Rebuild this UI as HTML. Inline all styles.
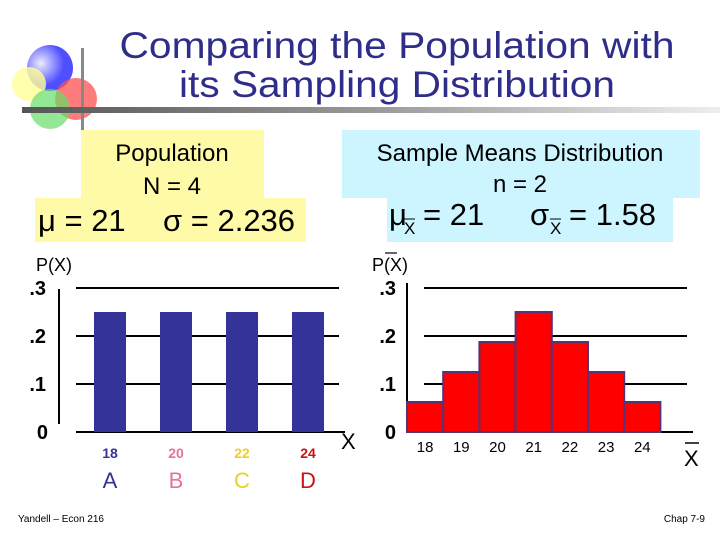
<!DOCTYPE html>
<html><head><meta charset="utf-8"><style>
body{margin:0;background:#fff;}
svg{display:block;font-family:"Liberation Sans",sans-serif;}
</style></head><body>
<svg width="720" height="540" viewBox="0 0 720 540">
<defs>
<linearGradient id="hb" x1="0" x2="1"><stop offset="0" stop-color="#555"/><stop offset="0.5" stop-color="#999"/><stop offset="1" stop-color="#eee"/></linearGradient>
<radialGradient id="gb" cx="0.3" cy="0.4"><stop offset="0" stop-color="#e8e8ff"/><stop offset="1" stop-color="#3030ff"/></radialGradient>
</defs>
<g>
<circle cx="50" cy="68" r="23" fill="url(#gb)" opacity="0.85"/>
<circle cx="29" cy="84" r="17" fill="#ffff99" opacity="0.8"/>
<circle cx="76" cy="99" r="21" fill="#ff5050" opacity="0.75"/>
<circle cx="50" cy="109" r="20" fill="#66dd66" opacity="0.7"/>
<rect x="81" y="48" width="3" height="84" fill="#888"/>
<rect x="22" y="107" width="698" height="6" fill="url(#hb)"/>
</g>
<g fill="#2e2e8a" font-size="37" text-anchor="middle">
<text x="397" y="58" textLength="555" lengthAdjust="spacingAndGlyphs">Comparing the Population with</text>
<text x="397" y="97" textLength="436" lengthAdjust="spacingAndGlyphs">its Sampling Distribution</text>
</g>
<g>
<rect x="81" y="130" width="183" height="70" fill="#fffaa8"/>
<rect x="35" y="198" width="271" height="44" fill="#fffaa8"/>
<text x="172" y="161" font-size="24" text-anchor="middle">Population</text>
<text x="172" y="194" font-size="24" text-anchor="middle">N = 4</text>
<text x="38" y="231" font-size="31">μ = 21</text>
<text x="163" y="231" font-size="31">σ = 2.236</text>
</g>
<g>
<rect x="342" y="130" width="358" height="68" fill="#ccf5ff"/>
<rect x="387" y="196" width="286" height="46" fill="#ccf5ff"/>
<text x="520" y="161" font-size="24" text-anchor="middle">Sample Means Distribution</text>
<text x="520" y="192" font-size="24" text-anchor="middle">n = 2</text>
<text x="389" y="225" font-size="31">μ</text>
<text x="404" y="234" font-size="17">X</text><line x1="404" y1="219" x2="415" y2="219" stroke="#000"/>
<text x="423" y="225" font-size="31">= 21</text>
<text x="530" y="225" font-size="31">σ</text>
<text x="550" y="234" font-size="17">X</text><line x1="550" y1="219" x2="561" y2="219" stroke="#000"/>
<text x="569" y="225" font-size="31">= 1.58</text>
</g>
<g id="left"></g>
<g id="right"></g>
<text x="18" y="522" font-size="10">Yandell – Econ 216</text>
<text x="705" y="522" font-size="10" text-anchor="end">Chap 7-9</text>
</svg>
<script>
const popCategories=["18","20","22","24"];
const popLetters=["A","B","C","D"];
const popValues=[0.25,0.25,0.25,0.25];
const sampCategories=["18","19","20","21","22","23","24"];
const sampValues=[0.0625,0.125,0.1875,0.25,0.1875,0.125,0.0625];
const yTicks=[0,0.1,0.2,0.3];
const yTickLabels=["0",".1",".2",".3"];

const NS="http://www.w3.org/2000/svg";
function mk(parent,tag,attrs,text){const e=document.createElementNS(NS,tag);for(const k in attrs)e.setAttribute(k,attrs[k]);if(text!==undefined)e.textContent=text;parent.appendChild(e);return e;}
const yScale=v=>432-v*480;

// Left chart
const L=document.getElementById('left');
const labelColors=["#333399","#e8709a","#e8d030","#cc1111"];
let t=mk(L,'text',{x:36,y:271,'font-size':18},'P(X)');

mk(L,'line',{x1:59,y1:289,x2:59,y2:424,stroke:'#000','stroke-width':2});
yTicks.forEach((v,i)=>{
  const y=yScale(v);
  const g=mk(L,'line',{x1:76,y1:y,x2:i==0?345:339,y2:y,stroke:'#000','stroke-width':2});
  
  const tx=mk(L,'text',{x:i==0?48:46,y:y+7,'font-size':20,'text-anchor':'end','font-weight':'bold'},yTickLabels[i]);
  
});
const lx=i=>110+i*66;
popValues.forEach((v,i)=>{
  const r=mk(L,'rect',{x:lx(i)-16,y:yScale(v),width:32,height:432-yScale(v),fill:'#333399'});
  
  const a=mk(L,'text',{x:lx(i),y:458,'font-size':14,'font-weight':'bold','text-anchor':'middle',fill:labelColors[i]},popCategories[i]);
  
  const b=mk(L,'text',{x:lx(i),y:488,'font-size':22,'text-anchor':'middle',fill:labelColors[i]},popLetters[i]);
  
});
t=mk(L,'text',{x:341,y:449,'font-size':22},'X');


// Right chart
const R=document.getElementById('right');
t=mk(R,'text',{x:372,y:271,'font-size':18},'P(X)');

mk(R,'line',{x1:385,y1:253,x2:397,y2:253,stroke:'#000','stroke-width':1.2});
mk(R,'line',{x1:407,y1:283,x2:407,y2:432,stroke:'#000','stroke-width':2});
yTicks.forEach((v,i)=>{
  const y=yScale(v);
  const g=mk(R,'line',{x1:i==0?407:424,y1:y,x2:i==0?693:687,y2:y,stroke:'#000','stroke-width':2});
  
  const tx=mk(R,'text',{x:396,y:y+7,'font-size':20,'text-anchor':'end','font-weight':'bold'},yTickLabels[i]);
  
});
const bw=36.2,rx=i=>407+i*bw;
sampValues.forEach((v,i)=>{
  const r=mk(R,'rect',{x:rx(i),y:yScale(v),width:bw,height:432-yScale(v),fill:'#ff0000',stroke:'#553377','stroke-width':2});
  
  const a=mk(R,'text',{x:rx(i)+bw/2,y:452,'font-size':15,'text-anchor':'middle'},sampCategories[i]);
  
});
t=mk(R,'text',{x:684,y:466,'font-size':22},'X');

mk(R,'line',{x1:685,y1:443,x2:699,y2:443,stroke:'#000','stroke-width':1.5});
</script>
</body></html>
